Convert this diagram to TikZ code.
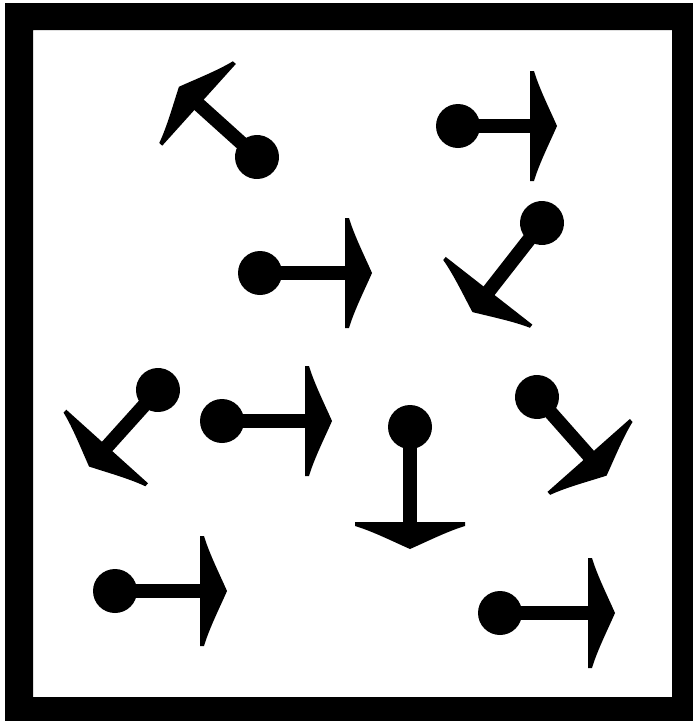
\documentclass[tikz,border=0pt]{standalone}
\usetikzlibrary{calc}
\tikzset{
  pics/glyph/.style={code={
    \fill (0,0) circle (22);
    \fill (0,-7) rectangle ({#1+3},7);
    \fill (#1,-55) -- ({#1+4},-55)
      .. controls ({#1+9},-38) and ({#1+20},-16) .. ({#1+27},0)
      .. controls ({#1+20},16) and ({#1+9},38) .. ({#1+4},55)
      -- (#1,55) -- cycle;
  }}
}
\begin{document}
\begin{tikzpicture}[x=1pt,y=-1pt]
\useasboundingbox (0,0) rectangle (693,721);
\fill[white] (0,0) rectangle (693,721);
\fill[black,even odd rule] (5,3) rectangle (693,721) (33,30) rectangle (672,697);
% glyphs: dot centre, angle (counterclockwise), stem length
\pic[rotate=138] at (257,157) {glyph=78};
\pic[rotate=0] at (458,126) {glyph=72};
\pic[rotate=0] at (260,273) {glyph=85};
\pic[rotate=232] at (542,223) {glyph=86};
\pic[rotate=228] at (158,390) {glyph=76};
\pic[rotate=0] at (222,421) {glyph=83};
\pic[rotate=270] at (410,427) {glyph=95};
\pic[rotate=-48.5] at (537,397) {glyph=78};
\pic[rotate=0] at (115,591) {glyph=85};
\pic[rotate=0] at (500,613) {glyph=88};
\end{tikzpicture}
\end{document}
